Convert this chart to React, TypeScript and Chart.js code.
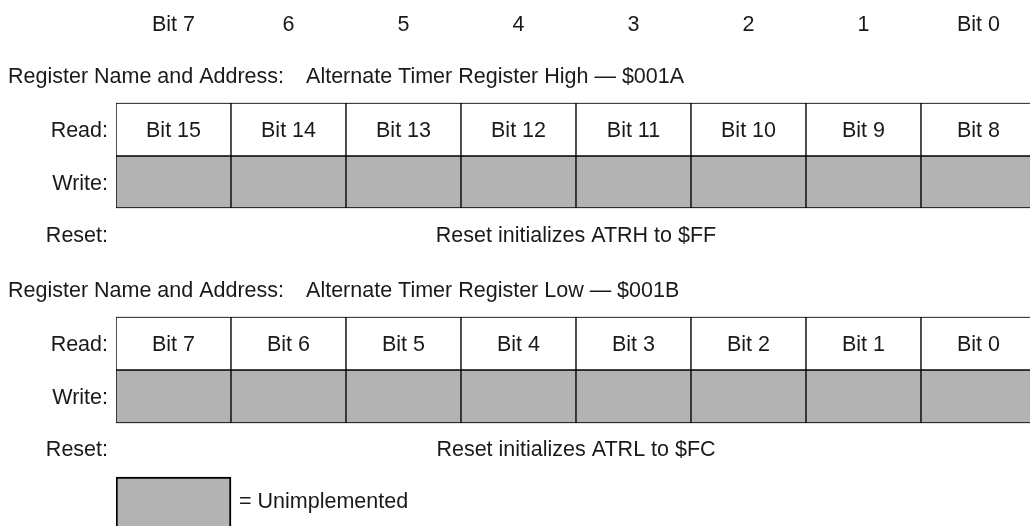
import React, { useEffect, useRef } from "react";
import { Chart, registerables } from "chart.js";

Chart.register(...registerables);

// ---- data ----
const bitColumns = [0, 1, 2, 3, 4, 5, 6, 7];
const headerLabels = ["Bit 7", "6", "5", "4", "3", "2", "1", "Bit 0"];
const highBits = ["Bit 15", "Bit 14", "Bit 13", "Bit 12", "Bit 11", "Bit 10", "Bit 9", "Bit 8"];
const lowBits = ["Bit 7", "Bit 6", "Bit 5", "Bit 4", "Bit 3", "Bit 2", "Bit 1", "Bit 0"];
const registerTitles = [
  "Alternate Timer Register High — $001A",
  "Alternate Timer Register Low — $001B",
];
const resetTexts = ["Reset initializes ATRH to $FF", "Reset initializes ATRL to $FC"];
const rowLabels = ["Read:", "Write:", "Reset:"];
const nameLabel = "Register Name and Address:";
const legendText = "= Unimplemented";

// vertical layout in row units (top to bottom)
const headerY = 0.462;
const titleY = [1.5, 5.775];
const tableTop = [2.06, 6.34];
const tableMid = [3.12, 7.4];
const tableBottom = [4.16, 8.46];
const resetY = [4.683, 8.957];
const legendTop = 9.54;
const legendBottom = 10.7;
const legendTextY = 9.996;

const GRAY = "#b3b3b3";
const FONT = '21.5px "Liberation Sans", Arial, sans-serif';
const TEXT_SHIFT = 2;

export default function App() {
  const ref = useRef<HTMLCanvasElement | null>(null);

  useEffect(() => {
    if (!ref.current) return;
    const bitTables = [highBits, lowBits];
    const datasets: any[] = [];
    [0, 1].forEach((t) => {
      datasets.push({
        data: bitColumns.map((c) => ({ x: c + 0.5, y: [tableTop[t], tableMid[t]] })),
        backgroundColor: "#ffffff",
        borderColor: "#000000",
        borderWidth: 1,
        barThickness: 115,
      });
      datasets.push({
        data: bitColumns.map((c) => ({ x: c + 0.5, y: [tableMid[t], tableBottom[t]] })),
        backgroundColor: GRAY,
        borderColor: "#000000",
        borderWidth: 1,
        barThickness: 115,
      });
      datasets.push({
        data: [{ x: 4, y: [tableTop[t], tableBottom[t]] }],
        backgroundColor: "rgba(0,0,0,0)",
        borderColor: "#000000",
        borderWidth: 2,
        barThickness: 920,
      });
    });
    datasets.push({
      data: [{ x: 0.5, y: [legendTop, legendBottom] }],
      backgroundColor: GRAY,
      borderColor: "#000000",
      borderWidth: 2,
      barThickness: 115,
    });

    const textPlugin = {
      id: "registerText",
      afterDatasetsDraw(chart: any) {
        const ctx = chart.ctx;
        const xs = chart.scales.x;
        const ys = chart.scales.y;
        const py = (v: number) => ys.getPixelForValue(v) + TEXT_SHIFT;
        const left = xs.getPixelForValue(0);
        ctx.save();
        ctx.font = FONT;
        ctx.fillStyle = "#1a1a1a";
        ctx.textBaseline = "middle";

        // header
        ctx.textAlign = "center";
        headerLabels.forEach((l, i) => {
          ctx.fillText(l, xs.getPixelForValue(bitColumns[i] + 0.5), py(headerY));
        });

        [0, 1].forEach((t) => {
          // title line
          ctx.textAlign = "left";
          const ty = py(titleY[t]);
          ctx.fillText(nameLabel, 8, ty);
          const w = ctx.measureText(nameLabel).width;
          ctx.fillText(registerTitles[t], 8 + w + 22, ty);

          // row labels
          ctx.textAlign = "right";
          const rowYs = [
            (tableTop[t] + tableMid[t]) / 2,
            (tableMid[t] + tableBottom[t]) / 2,
            resetY[t],
          ];
          rowLabels.forEach((l, k) => {
            ctx.fillText(l, left - 8, py(rowYs[k]));
          });

          // bit names
          ctx.textAlign = "center";
          bitTables[t].forEach((b, i) => {
            ctx.fillText(b, xs.getPixelForValue(bitColumns[i] + 0.5), py(rowYs[0]));
          });

          // reset text
          ctx.fillText(resetTexts[t], xs.getPixelForValue(4), py(resetY[t]));
        });

        // legend text
        ctx.textAlign = "left";
        ctx.fillText(legendText, xs.getPixelForValue(1) + 8, py(legendTextY));
        ctx.restore();
      },
    };

    const chart = new Chart(ref.current, {
      type: "bar",
      data: { datasets },
      options: {
        animation: false,
        responsive: false,
        maintainAspectRatio: false,
        layout: { padding: { left: 116, right: 0, top: 0, bottom: 0 } },
        datasets: {
          bar: {
            grouped: false,
            barPercentage: 1,
            categoryPercentage: 1,
            borderSkipped: false,
          } as any,
        },
        plugins: { legend: { display: false }, tooltip: { enabled: false } },
        scales: {
          x: { type: "linear", display: false, offset: false, min: 0, max: 914 / 115 },
          y: { type: "linear", display: false, reverse: true, min: 0, max: 526 / 50 },
        },
      },
      plugins: [textPlugin],
    });
    return () => chart.destroy();
  }, []);

  return (
    <div style={{ position: "fixed", left: 0, top: 0, width: 1030, height: 526, background: "#fff" }}>
      <canvas ref={ref} width={1030} height={526} style={{ width: 1030, height: 526, display: "block" }} />
    </div>
  );
}
